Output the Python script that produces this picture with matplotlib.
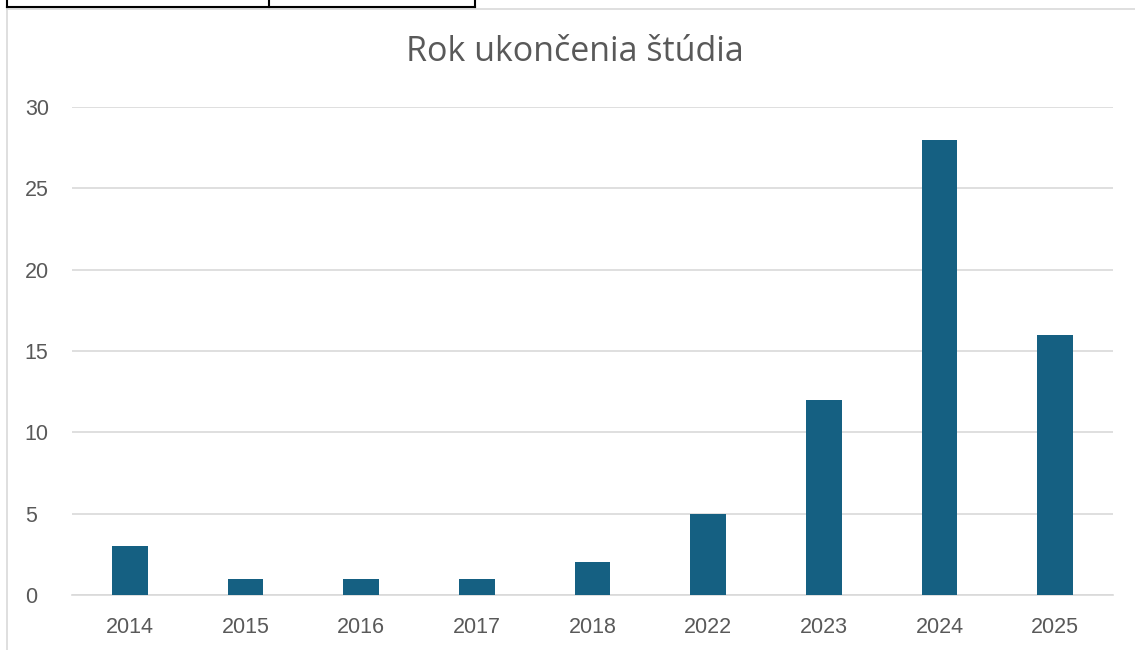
import matplotlib
matplotlib.use("Agg")
import matplotlib.pyplot as plt
from matplotlib.lines import Line2D

# data
years = ["2014", "2015", "2016", "2017", "2018", "2022", "2023", "2024", "2025"]
counts = [3, 1, 1, 1, 2, 5, 12, 28, 16]
y_ticks = [0, 5, 10, 15, 20, 25, 30]

plt.rcParams['font.family'] = ['Liberation Sans', 'DejaVu Sans']

fig = plt.figure(figsize=(11.35, 6.5), dpi=100)
W, H = 1135, 650

# table fragment above the chart and the chart border
def fline(x0, y0, x1, y1, color, lw):
    fig.add_artist(Line2D([x0 / W, x1 / W], [1 - y0 / H, 1 - y1 / H],
                          color=color, linewidth=lw, transform=fig.transFigure))

fline(7, 9, 1135, 9, "#d9d9d9", 1.2)
fline(7, 9, 7, 650, "#d9d9d9", 1.2)
fline(7, 7, 475, 7, "black", 1.5)
for x in [7, 269, 475]:
    fline(x, 0, x, 7, "black", 1.5)

ax = fig.add_axes([72 / W, 1 - 595 / H, (1113 - 72) / W, (595 - 107) / H])
x = range(len(years))
ax.bar(x, counts, width=0.31, color="#156082", zorder=3)

ax.set_xlim(-0.5, len(years) - 0.5)
ax.set_ylim(0, 30)
ax.set_yticks(y_ticks)
ax.set_xticks(list(x))
ax.set_xticklabels(years)
ax.grid(axis="y", color="#d9d9d9", linewidth=1.2, zorder=0)
for s in ["top", "right", "left"]:
    ax.spines[s].set_visible(False)
ax.spines["bottom"].set_color("#d9d9d9")
ax.spines["bottom"].set_linewidth(1.2)
ax.tick_params(axis="both", length=0, labelsize=15.5, labelcolor="#595959")
ax.tick_params(axis="y", pad=34)
ax.tick_params(axis="x", pad=16)
for lab in ax.get_yticklabels():
    lab.set_horizontalalignment("left")

fig.text(575 / W, 1 - 52 / H, "Rok ukončenia štúdia", ha="center", va="center",
         fontsize=24.5, color="#595959", family=["Open Sans", "DejaVu Sans"])

fig.savefig("out.png", dpi=100, facecolor="white")
